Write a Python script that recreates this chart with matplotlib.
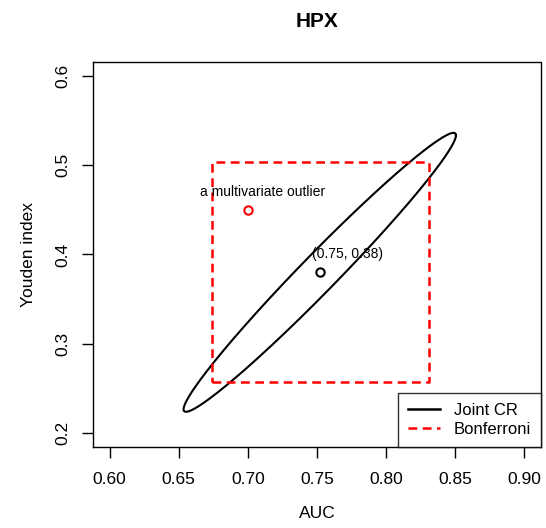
import numpy as np
import matplotlib
matplotlib.use("Agg")
import matplotlib.pyplot as plt
from matplotlib.lines import Line2D

plt.rcParams["font.family"] = ["Liberation Sans", "DejaVu Sans"]

# estimate (AUC, Youden index) and its joint confidence region
center_auc = 0.752
center_youden = 0.38
half_range_auc = 0.0985      # half extent of the ellipse along AUC
half_range_youden = 0.1565   # half extent along Youden index
corr = 0.982

# Bonferroni rectangle
bonf_auc = [0.674, 0.831]
bonf_youden = [0.257, 0.504]

outlier_auc = 0.70
outlier_youden = 0.45

xticks = [0.60, 0.65, 0.70, 0.75, 0.80, 0.85, 0.90]
yticks = [0.2, 0.3, 0.4, 0.5, 0.6]

fig = plt.figure(figsize=(5.46, 5.28), dpi=100)
ax = fig.add_axes([0.1703, 0.1534, 0.8205, 0.7292])

# ellipse: x = cx + a cos t, y = cy + b cos(t + phi), cos(phi) = corr
t = np.linspace(0, 2 * np.pi, 400)
phi = np.arccos(corr)
ex = center_auc + half_range_auc * np.cos(t)
ey = center_youden + half_range_youden * np.cos(t + phi)
ax.plot(ex, ey, color="black", lw=1.5)

bx = [bonf_auc[0], bonf_auc[1], bonf_auc[1], bonf_auc[0], bonf_auc[0]]
by = [bonf_youden[0], bonf_youden[0], bonf_youden[1], bonf_youden[1], bonf_youden[0]]
ax.plot(bx, by, color="red", lw=1.8, ls=(0, (3.5, 2.2)))

ax.plot([center_auc], [center_youden], "o", mfc="none", mec="black", ms=6, mew=1.5)
ax.plot([outlier_auc], [outlier_youden], "o", mfc="none", mec="red", ms=6, mew=1.5)

ax.text(0.711, 0.470, "a multivariate outlier", fontsize=10, ha="center", va="center")
ax.text(0.772, 0.401, "(0.75, 0.38)", fontsize=10, ha="center", va="center")

ax.set_xlim(0.588, 0.912)
ax.set_ylim(0.184, 0.616)
ax.set_xticks(xticks)
ax.set_xticklabels([f"{v:.2f}" for v in xticks])
ax.set_yticks(yticks)
ax.set_yticklabels([f"{v:.1f}" for v in yticks], rotation=90, va="center")
ax.tick_params(axis="both", length=8, width=1, labelsize=12.5)
ax.tick_params(axis="x", pad=10)
ax.tick_params(axis="y", pad=8)

for sp in ["top", "right"]:
    ax.spines[sp].set_visible(False)
for sp in ["left", "bottom"]:
    ax.spines[sp].set_linewidth(1.0)
# full box as in R's plot
ax.plot([0.588, 0.912, 0.912], [0.616, 0.616, 0.184], color="black", lw=1.0,
        clip_on=False, zorder=3)

ax.set_xlabel("AUC", fontsize=12.5, labelpad=14)
ax.set_ylabel("Youden index", fontsize=12.5, labelpad=14)
ax.set_title("HPX", fontsize=15, fontweight="bold", pad=25)

handles = [Line2D([0], [0], color="black", lw=1.8),
           Line2D([0], [0], color="red", lw=1.8, ls=(0, (3.5, 2.2)))]
leg = ax.legend(handles, ["Joint CR", "Bonferroni"], loc="lower right",
                fontsize=12, frameon=True, fancybox=False, borderaxespad=0,
                handlelength=1.9, handletextpad=0.85, labelspacing=0.25,
                borderpad=0.6)
leg.get_frame().set_edgecolor("black")
leg.get_frame().set_linewidth(1.0)

fig.savefig("out.png", dpi=100)
